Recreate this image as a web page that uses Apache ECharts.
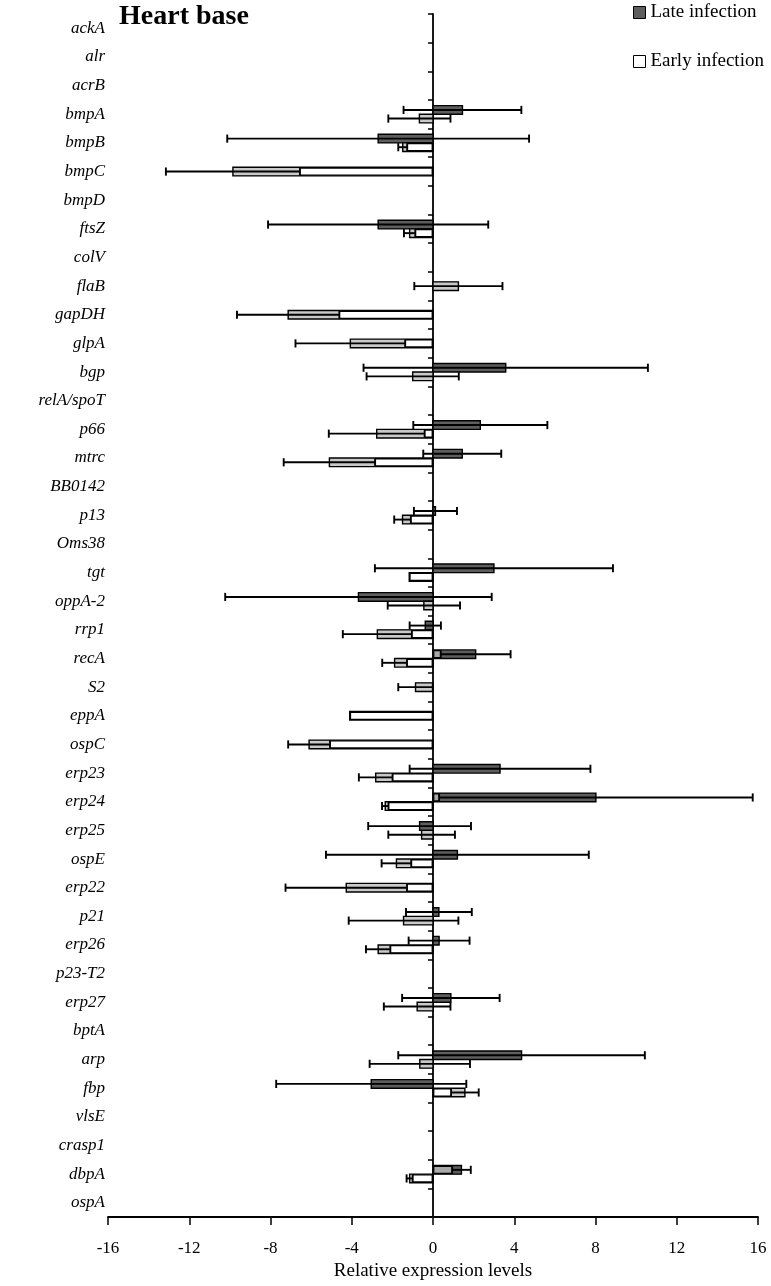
<!DOCTYPE html>
<html><head><meta charset="utf-8">
<script src="https://cdn.jsdelivr.net/npm/echarts@6/dist/echarts.min.js"></script>
<style>html,body{margin:0;padding:0;background:#fff}#c{width:771px;height:1286px}</style>
</head><body><div id="c"></div>
<script>
const categories = ['ackA','alr','acrB','bmpA','bmpB','bmpC','bmpD','ftsZ','colV','flaB','gapDH','glpA','bgp','relA/spoT','p66','mtrc','BB0142','p13','Oms38','tgt','oppA-2','rrp1','recA','S2','eppA','ospC','erp23','erp24','erp25','ospE','erp22','p21','erp26','p23-T2','erp27','bptA','arp','fbp','vlsE','crasp1','dbpA','ospA'];
const lateMean = [null,null,null,1.45,-2.7,null,null,-2.7,null,null,null,null,3.58,null,2.33,1.44,null,0.12,null,3.0,-3.67,-0.38,2.1,null,null,null,3.3,8.02,-0.66,1.2,null,0.29,0.3,null,0.88,null,4.36,-3.04,null,null,1.4,null];
const lateSD   = [null,null,null,2.9,7.43,null,null,5.42,null,null,null,null,7.0,null,3.3,1.92,null,1.06,null,5.86,6.56,0.77,1.72,null,null,null,4.45,7.72,2.53,6.47,null,1.62,1.5,null,2.4,null,6.07,4.68,null,null,0.46,null];
const earlyMean = [null,null,null,-0.67,-1.49,-9.85,null,-1.15,null,1.25,-7.13,-4.07,-1.0,null,-2.77,-5.1,null,-1.5,null,-1.17,-0.45,-2.74,-1.89,-0.86,-4.1,-6.1,-2.82,-2.35,-0.56,-1.8,-4.27,-1.45,-2.7,null,-0.78,null,-0.65,1.57,null,null,-1.15,null];
const earlySD   = [null,null,null,1.53,0.22,3.3,null,0.28,null,2.17,2.52,2.7,2.27,null,2.36,2.25,null,0.41,null,0,1.78,1.7,0.61,0.85,0,1.03,0.83,0.16,1.64,0.73,2.99,2.7,0.6,null,1.64,null,2.47,0.68,null,null,0.15,null];
const xMin = -16, xMax = 16, xInterval = 4;

const FONT = 'Liberation Serif';
const BAR_FRAC = 0.3;
const LATE_BASE = '#a9a9a9', LATE_DARK = '#5e5e5e', EARLY_BASE = '#ffffff', EARLY_SHADE = '#c9c9c9';

// pair rows (both series) vs single rows (only early present -> centred)
const earlyPair = earlyMean.map((v, i) => lateMean[i] != null ? v : null);
const earlySingle = earlyMean.map((v, i) => lateMean[i] == null ? v : null);

const errData = [];
categories.forEach((c, i) => {
  if (lateMean[i] != null) errData.push([i, lateMean[i], lateSD[i], -1, 0]);
  if (earlyMean[i] != null) errData.push([i, earlyMean[i], earlySD[i], lateMean[i] != null ? 1 : 0, 1]);
});

function renderErr(params, api) {
  const cat = api.value(0), mean = api.value(1), sd = api.value(2), slot = api.value(3), kind = api.value(4);
  const band = api.size([0, 1])[1];
  const bw = band * BAR_FRAC;
  const yc = api.coord([0, cat])[1] + slot * bw / 2;
  const x0 = api.coord([0, cat])[0];
  const xm = api.coord([mean, cat])[0];
  const children = [];
  const a = Math.min(0, mean), b = Math.max(0, mean);
  const lo = Math.max(a, mean - sd), hi = Math.min(b, mean + sd);
  if (hi > lo) {
    const x1 = api.coord([lo, cat])[0], x2 = api.coord([hi, cat])[0];
    children.push({type: 'rect', shape: {x: x1, y: yc - bw / 2, width: x2 - x1, height: bw},
      style: {fill: kind === 0 ? LATE_DARK : EARLY_SHADE}});
  }
  children.push({type: 'rect', shape: {x: Math.min(x0, xm), y: yc - bw / 2, width: Math.abs(xm - x0), height: bw},
    style: {fill: 'none', stroke: '#000', lineWidth: 1.4}});
  if (sd > 0) {
    const xl = api.coord([mean - sd, cat])[0], xr = api.coord([mean + sd, cat])[0];
    const ch = bw * 0.95;
    const ls = {stroke: '#000', lineWidth: 1.9};
    children.push({type: 'line', shape: {x1: xl, y1: yc, x2: xr, y2: yc}, style: ls});
    children.push({type: 'line', shape: {x1: xl, y1: yc - ch / 2, x2: xl, y2: yc + ch / 2}, style: ls});
    children.push({type: 'line', shape: {x1: xr, y1: yc - ch / 2, x2: xr, y2: yc + ch / 2}, style: ls});
  }
  return {type: 'group', children};
}

const chart = echarts.init(document.getElementById('c'), null, {renderer: 'canvas'});
chart.setOption({
  animation: false,
  backgroundColor: '#fff',
  title: {text: 'Heart base', left: 114, top: -2,
    textStyle: {fontFamily: FONT, fontWeight: 'bold', fontSize: 28, color: '#000'}},
  legend: {orient: 'vertical', left: 633, top: 3, itemGap: 30, itemWidth: 12, itemHeight: 12, padding: 0,
    icon: 'rect',
    textStyle: {fontFamily: FONT, fontSize: 19, color: '#000'},
    data: [
      {name: 'Late infection', itemStyle: {color: LATE_DARK, borderColor: '#000', borderWidth: 1}},
      {name: 'Early infection', itemStyle: {color: EARLY_BASE, borderColor: '#000', borderWidth: 1}}
    ]},
  grid: {left: 108, right: 13, top: 14, bottom: 67, containLabel: false},
  xAxis: {type: 'value', min: xMin, max: xMax, interval: xInterval,
    name: 'Relative expression levels', nameLocation: 'middle', nameGap: 44,
    nameTextStyle: {fontFamily: FONT, fontSize: 19, color: '#000'},
    axisLine: {show: true, onZero: false, lineStyle: {color: '#000', width: 1.8}},
    axisTick: {show: true, length: 8, lineStyle: {color: '#000', width: 1.5}},
    axisLabel: {fontFamily: FONT, fontSize: 17, color: '#000', margin: 23},
    splitLine: {show: false}},
  yAxis: [
    {type: 'category', data: categories, inverse: true, position: 'left',
      axisLine: {show: false, onZero: false}, axisTick: {show: false},
      axisLabel: {fontFamily: FONT, fontStyle: 'italic', fontSize: 17, color: '#000', margin: 3}},
    {type: 'category', data: categories, inverse: true, position: 'left',
      axisLine: {show: true, onZero: true, lineStyle: {color: '#000', width: 1.8}},
      axisTick: {show: true, length: 5, lineStyle: {color: '#000', width: 1.5}},
      axisLabel: {show: false}}
  ],
  series: [
    {name: 'Late infection', type: 'bar', yAxisIndex: 0, data: lateMean, barWidth: (BAR_FRAC * 100) + '%', barGap: '0%',
      itemStyle: {color: LATE_BASE, borderColor: '#000', borderWidth: 1.4}},
    {name: 'Early infection', type: 'bar', yAxisIndex: 0, data: earlyPair, barWidth: (BAR_FRAC * 100) + '%', barGap: '0%',
      itemStyle: {color: EARLY_BASE, borderColor: '#000', borderWidth: 1.4}},
    {name: 'Early infection', type: 'bar', yAxisIndex: 1, data: earlySingle, barWidth: (BAR_FRAC * 100) + '%',
      itemStyle: {color: EARLY_BASE, borderColor: '#000', borderWidth: 1.4}},
    {name: 'errors', type: 'custom', yAxisIndex: 0, renderItem: renderErr, data: errData,
      encode: {x: 1, y: 0}, z: 5, silent: true}
  ]
});
</script></body></html>
